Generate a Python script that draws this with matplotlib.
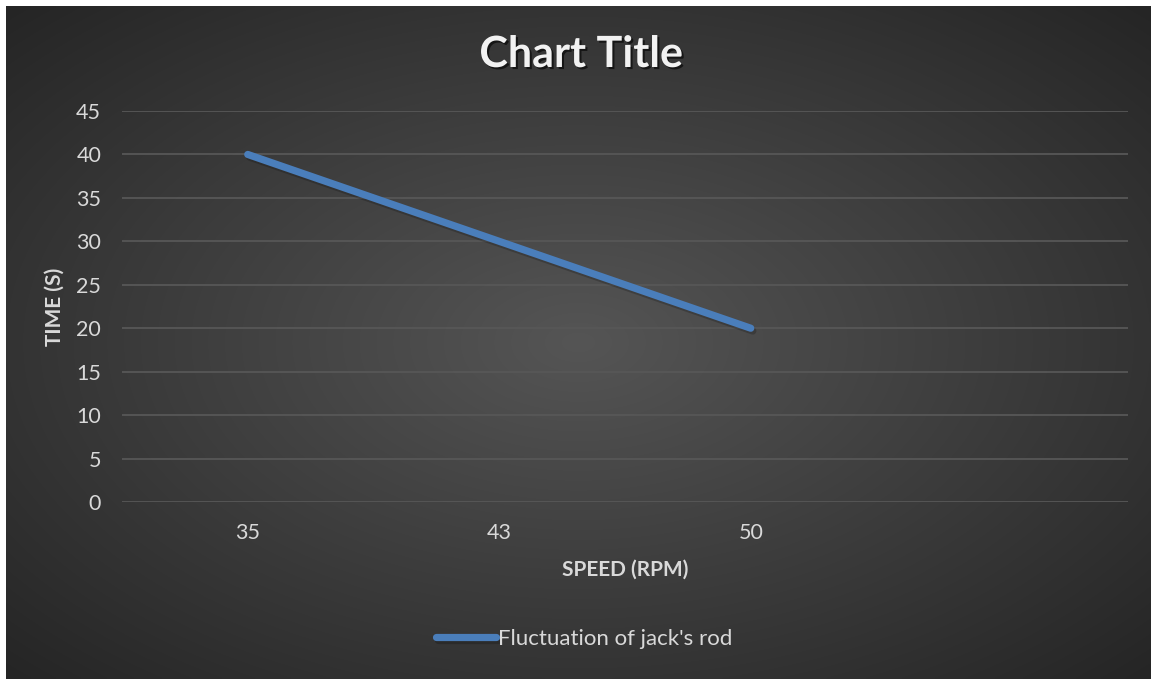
import numpy as np
import matplotlib
matplotlib.use("Agg")
import matplotlib.pyplot as plt
import matplotlib.patheffects as pe

# Daten
categories = ["35", "43", "50", ""]
time_s = [40, 30, 20, np.nan]
y_ticks = [0, 5, 10, 15, 20, 25, 30, 35, 40, 45]
series_name = "Fluctuation of jack's rod"

W, H = 1151, 679
plt.rcParams['font.family'] = ['Lato', 'DejaVu Sans']

fig = plt.figure(figsize=(W / 100, H / 100), dpi=100, facecolor="white")

# Hintergrund mit radialem Verlauf
bg = fig.add_axes([6 / W, 0, (W - 6) / W, (H - 6) / H], zorder=-1)
gx, gy = np.meshgrid(np.linspace(-1, 1, 400), np.linspace(-1, 1, 240))
r = np.clip(np.sqrt(gx ** 2 + gy ** 2) / np.sqrt(2), 0, 1)
inner = np.array([0x55, 0x55, 0x55]) / 255
outer = np.array([0x25, 0x25, 0x25]) / 255
img = inner[None, None, :] * (1 - r[..., None]) + outer[None, None, :] * r[..., None]
bg.imshow(img, extent=[0, 1, 0, 1], aspect="auto", interpolation="bilinear")
bg.set_axis_off()

# Plotbereich
ax = fig.add_axes([122 / W, 1 - 502 / H, (1128 - 122) / W, (502 - 111) / H])
ax.set_facecolor("none")
x = np.arange(len(categories))
ax.plot(x, time_s, color="#4a7ebb", linewidth=5.2, solid_capstyle="round",
        label=series_name,
        path_effects=[pe.SimpleLineShadow(offset=(1.5, -2), alpha=0.2), pe.Normal()])

ax.set_xlim(-0.5, len(categories) - 0.5)
ax.set_ylim(0, 45)
ax.set_yticks(y_ticks)
ax.set_xticks(x)
ax.set_xticklabels(categories)
ax.tick_params(axis="both", length=0, labelsize=15.5, labelcolor="#d9d9d9")
ax.tick_params(axis="x", pad=15)
ax.tick_params(axis="y", pad=15)
ax.grid(axis="y", color="#575757", linewidth=1.3)
ax.set_axisbelow(True)
for s in ax.spines.values():
    s.set_visible(False)

# Titel und Achsenbeschriftungen
fig.text(581 / W, 1 - 54 / H, "Chart Title", ha="center", va="center",
         fontsize=31, fontweight="bold", color="#f2f2f2",
         path_effects=[pe.withSimplePatchShadow(offset=(1.5, -1.5), shadow_rgbFace="black", alpha=0.6)])
fig.text(625 / W, 1 - 570 / H, "SPEED (RPM)", ha="center", va="center",
         fontsize=15, fontweight="bold", color="#d9d9d9")
fig.text(55 / W, 1 - 307 / H, "TIME (S)", ha="center", va="center", rotation=90,
         fontsize=15, fontweight="bold", color="#d9d9d9")

# Legende
leg = fig.legend(loc="center", bbox_to_anchor=(584 / W, 1 - 639 / H), frameon=False,
                 handlelength=2.7, handletextpad=0.1, fontsize=16)
for t in leg.get_texts():
    t.set_color("#d9d9d9")

fig.savefig("out.png", dpi=100, facecolor=fig.get_facecolor())
